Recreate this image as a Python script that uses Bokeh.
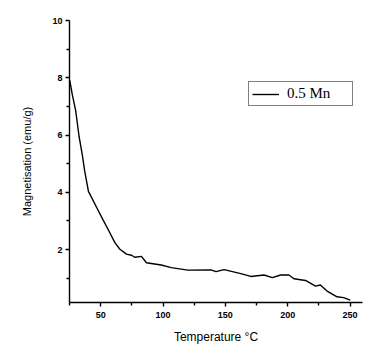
from bokeh.plotting import figure
from bokeh.models import FixedTicker, Legend, LegendItem, Range1d
from bokeh.embed import file_html
from bokeh.resources import INLINE

temperature = [25.2, 27.3, 30, 32.7, 35.4, 37.3, 40.2, 46.8, 52.1, 56.1, 61.4, 65.4, 70.7, 74.7,
               77.3, 82.7, 86.7, 98.6, 106.6, 120, 138.5, 142.5, 149, 162.4, 170.4, 181, 187.7,
               194.3, 201, 205, 214.3, 222.3, 226.2, 231.6, 239.6, 244.8, 250.2]
magnetisation = [7.91, 7.40, 6.84, 5.94, 5.27, 4.71, 4.03, 3.47, 3.02, 2.69, 2.24, 2.01, 1.84, 1.80,
                 1.73, 1.76, 1.54, 1.46, 1.37, 1.28, 1.29, 1.23, 1.30, 1.16, 1.06, 1.11, 1.02,
                 1.11, 1.11, 0.98, 0.92, 0.72, 0.76, 0.55, 0.35, 0.32, 0.23]
x_ticks = [50, 100, 150, 200, 250]
x_minor = [25, 75, 125, 175, 225]
y_ticks = [2, 4, 6, 8, 10]
y_minor = [1, 3, 5, 7, 9]
series_name = "0.5 Mn"

p = figure(width=365, height=346, output_backend="svg", toolbar_location=None,
           x_range=Range1d(25, 260), y_range=Range1d(0.15, 10),
           min_border_left=69, min_border_right=3, min_border_top=20, min_border_bottom=34)
p.outline_line_color = None
p.grid.visible = False
p.background_fill_color = "white"
p.border_fill_color = "white"

r = p.line(temperature, magnetisation, line_color="black", line_width=1.4)

p.xaxis.ticker = FixedTicker(ticks=x_ticks, minor_ticks=x_minor)
p.yaxis.ticker = FixedTicker(ticks=y_ticks, minor_ticks=y_minor)
for ax in (p.xaxis, p.yaxis):
    ax.axis_line_color = "black"
    ax.axis_line_width = 1.4
    ax.major_tick_line_color = "black"
    ax.minor_tick_line_color = "black"
    ax.major_tick_line_width = 1.4
    ax.minor_tick_line_width = 1.4
    ax.major_tick_out = 4
    ax.major_tick_in = 0
    ax.minor_tick_out = 3
    ax.minor_tick_in = 0
    ax.major_label_text_font = "Liberation Sans"
    ax.major_label_text_font_style = "bold"
    ax.major_label_text_font_size = "9px"
    ax.major_label_text_color = "black"
    ax.axis_label_text_font = "Liberation Sans"
    ax.axis_label_text_font_style = "normal"
    ax.axis_label_text_color = "black"

p.xaxis.axis_label = "Temperature °C"
p.yaxis.axis_label = "Magnetisation (emu/g)"
p.xaxis.axis_label_text_font_size = "12px"
p.yaxis.axis_label_text_font_size = "11px"
p.xaxis.major_label_standoff = 5
p.xaxis.axis_label_standoff = 9
p.yaxis.major_label_standoff = 3
p.yaxis.axis_label_standoff = 16

legend = Legend(items=[LegendItem(label=series_name, renderers=[r])], location=(179, 196))
legend.border_line_color = "black"
legend.border_line_width = 1.5
legend.label_text_font = "Liberation Serif"
legend.label_text_font_size = "15px"
legend.label_text_color = "black"
legend.glyph_width = 27
legend.glyph_height = 12
legend.padding = 3
legend.margin = 0
legend.label_standoff = 8
legend.label_height = 12
legend.label_width = 62
legend.background_fill_alpha = 1
p.add_layout(legend, "center")

open("out.html", "w").write(file_html(p, INLINE))
